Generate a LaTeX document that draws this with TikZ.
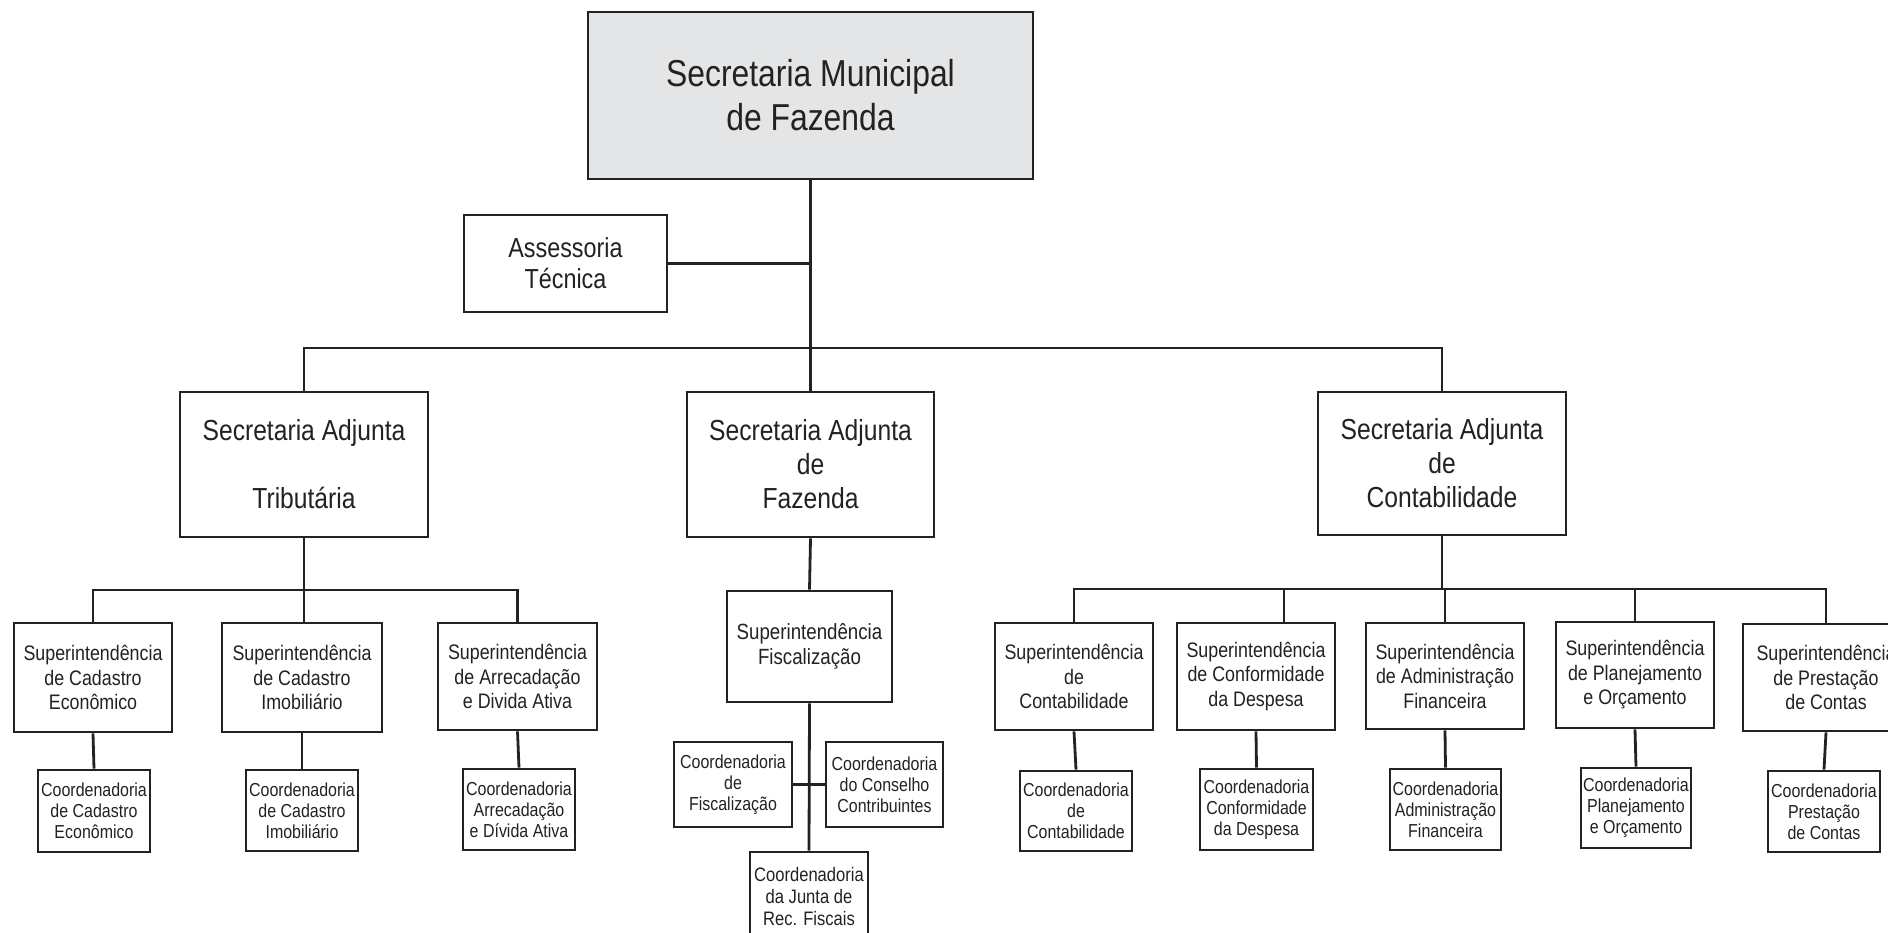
\documentclass[tikz,border=0pt]{standalone}
\usepackage{fontspec}
\setmainfont{Liberation Sans}[FakeStretch=0.85]
\definecolor{ink}{HTML}{222222}
\definecolor{topfill}{HTML}{E4E5E6}
\begin{document}
\begin{tikzpicture}[x=1pt,y=-1pt,
  box/.style={draw=ink, line width=2.8pt, inner sep=0pt, align=center, text=ink, fill=white},
  wh/.style 2 args={minimum width=#1 pt, minimum height=#2 pt},
  big/.style={box, font=\fontsize{37.5}{44}\selectfont},
  adj/.style={box, font=\fontsize{29}{34}\selectfont},
  sup/.style={box, font=\fontsize{21}{24.5}\selectfont},
  crd/.style={box, font=\fontsize{18.8}{21}\selectfont},
  link/.style={draw=ink, line width=2.8pt}]
\useasboundingbox (0,0) rectangle (1888,933);
\clip (0,0) rectangle (1888,933);
\fill[white] (0,0) rectangle (1888,933);

% ---- nodes ----
\node[big, fill=topfill, wh={445}{167}] (top) at (810.5,95.5) {Secretaria Municipal\\de Fazenda};
\node[box, font=\fontsize{27.5}{31}\selectfont, wh={203}{97}] (asses) at (565.5,263.5) {Assessoria\\Técnica};

\node[adj, wh={248}{145}] (trib) at (304,464.5) {Secretaria Adjunta\\\strut\\Tributária};
\node[adj, wh={247}{145}] (faz) at (810.5,464.5) {Secretaria Adjunta\\de\\Fazenda};
\node[adj, wh={248}{143}] (cont) at (1442,463.5) {Secretaria Adjunta\\de\\Contabilidade};

% Tributaria branch
\node[sup, wh={158}{109}] (sce) at (93,677.5) {Superintendência\\de Cadastro\\Econômico};
\node[sup, wh={160}{109}] (sci) at (302,677.5) {Superintendência\\de Cadastro\\Imobiliário};
\node[sup, wh={159}{107}] (sar) at (517.5,676.5) {Superintendência\\de Arrecadação\\e Divida Ativa};
\node[crd, wh={112}{82}] (cce) at (94,811) {Coordenadoria\\de Cadastro\\Econômico};
\node[crd, wh={112}{81}] (cci) at (302,810.5) {Coordenadoria\\de Cadastro\\Imobiliário};
\node[crd, wh={112}{81}] (car) at (519,809.5) {Coordenadoria\\Arrecadação\\e Dívida Ativa};

% Fazenda branch
\node[sup, font=\fontsize{22}{25.5}\selectfont, wh={165}{111}] (sf) at (809.5,646.5) {Superintendência\\Fiscalização};
\node[crd, wh={118}{85}] (cfisc) at (733,784.5) {Coordenadoria\\de\\Fiscalização};
\node[crd, wh={117}{85}] (ccons) at (884.5,784.5) {Coordenadoria\\do Conselho\\Contribuintes};
\node[crd, font=\fontsize{19.5}{22}\selectfont, wh={118}{90}] (junta) at (809,897) {Coordenadoria\\da Junta de\\Rec. Fiscais};

% Contabilidade branch
\node[sup, wh={158}{107}] (scont) at (1074,676.5) {Superintendência\\de\\Contabilidade};
\node[sup, wh={158}{107}] (sconf) at (1256,676.5) {Superintendência\\de Conformidade\\da Despesa};
\node[sup, wh={158}{106}] (sadm) at (1445,676) {Superintendência\\de Administração\\Financeira};
\node[sup, wh={158}{106}] (splan) at (1635,675) {Superintendência\\de Planejamento\\e Orçamento};
\node[sup, wh={166}{107}] (sprest) at (1826,677.5) {Superintendência\\de Prestação\\de Contas};
\node[crd, wh={112}{80}] (ccont) at (1076,811) {Coordenadoria\\de\\Contabilidade};
\node[crd, wh={113}{81}] (cconf) at (1256.5,809.5) {Coordenadoria\\Conformidade\\da Despesa};
\node[crd, wh={111}{81}] (cadm) at (1445.5,809.5) {Coordenadoria\\Administração\\Financeira};
\node[crd, wh={110}{80}] (cplan) at (1636,808) {Coordenadoria\\Planejamento\\e Orçamento};
\node[crd, wh={112}{81}] (cprest) at (1824,811.5) {Coordenadoria\\Prestação\\de Contas};

% ---- connectors ----
\coordinate (bus1) at (top.south |- 0,348);
\draw[link] (top.south) -- (faz.north);
\draw[link] (asses.east) -- (asses.east -| top.south);
\draw[link] (trib.north) |- (bus1) -| (cont.north);

\coordinate (tbus) at (trib.south |- 0,590);
\draw[link] (trib.south) -- (trib.south |- sci.north);
\draw[link] (sce.north) |- (tbus) -| (sar.north);
\draw[link] (sce.south) -- (cce.north);
\draw[link] (sci.south) -- (cci.north);
\draw[link] (sar.south) -- (car.north);

\draw[link] (faz.south) -- (sf.north);
\draw[link] (sf.south) -- (junta.north);
\draw[link] (cfisc.east) -- (ccons.west);

\coordinate (cbus) at (cont.south |- 0,589);
\coordinate (sconfin) at ([xshift=28pt]sconf.north);
\draw[link] (cont.south) -- (cbus);
\draw[link] (scont.north) |- (cbus) -| (sprest.north);
\draw[link] (sconfin) -- (sconfin |- cbus);
\draw[link] (sadm.north) -- (sadm.north |- cbus);
\draw[link] (splan.north) -- (splan.north |- cbus);
\draw[link] (scont.south) -- (ccont.north);
\draw[link] (sconf.south) -- (cconf.north);
\draw[link] (sadm.south) -- (cadm.north);
\draw[link] (splan.south) -- (cplan.north);
\draw[link] (sprest.south) -- (cprest.north);
\end{tikzpicture}
\end{document}
